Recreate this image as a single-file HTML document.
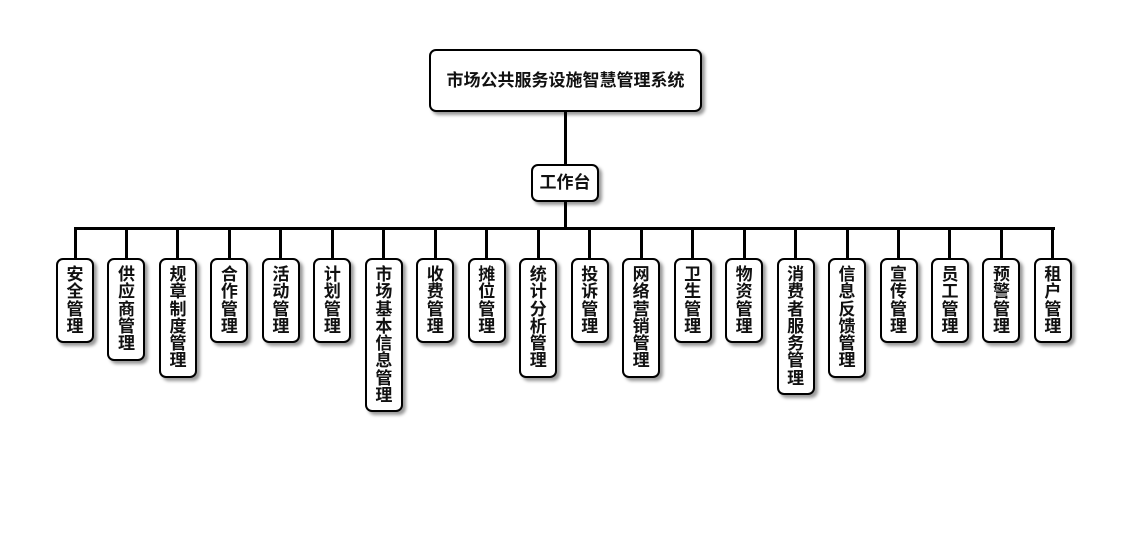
<!DOCTYPE html>
<html><head><meta charset="utf-8"><style>
body{margin:0;width:1130px;height:560px;background:#fff;position:relative;overflow:hidden;font-family:"Liberation Sans","Noto Sans CJK SC",sans-serif;font-weight:bold;color:#111}
.b{position:absolute;background:#fff;border:2px solid #000;border-radius:7px;box-shadow:3px 3px 3px #999;box-sizing:border-box;text-align:center}
.v{width:38px;top:258px;font-size:17px;line-height:17.3px;padding-top:6px}
.l{position:absolute;background:#000}
</style></head><body>
<div class="b" style="left:429px;top:49px;width:273px;height:63px;line-height:59px;font-size:17px">市场公共服务设施智慧管理系统</div>
<div class="l" style="left:564px;top:112px;width:3px;height:52px"></div>
<div class="b" style="left:531px;top:164px;width:68px;height:38px;line-height:34px;font-size:17px">工作台</div>
<div class="l" style="left:564px;top:202px;width:3px;height:26px"></div>
<div class="l" style="left:74px;top:227px;width:981px;height:3px"></div>
<div id="c"></div>
<script>
var n=["安全管理","供应商管理","规章制度管理","合作管理","活动管理","计划管理","市场基本信息管理","收费管理","摊位管理","统计分析管理","投诉管理","网络营销管理","卫生管理","物资管理","消费者服务管理","信息反馈管理","宣传管理","员工管理","预警管理","租户管理"];
var h="";
for(var i=0;i<n.length;i++){var cx=75+i*51.47;var L=n[i].length;
h+='<div class="l" style="left:'+(cx-1.5)+'px;top:228px;width:3px;height:30px"></div>';
h+='<div class="b v" style="left:'+(cx-19)+'px;height:'+(16+17.3*L)+'px">'+n[i].split('').join('<br>')+'</div>';}
document.getElementById('c').innerHTML=h;
</script>
</body></html>
